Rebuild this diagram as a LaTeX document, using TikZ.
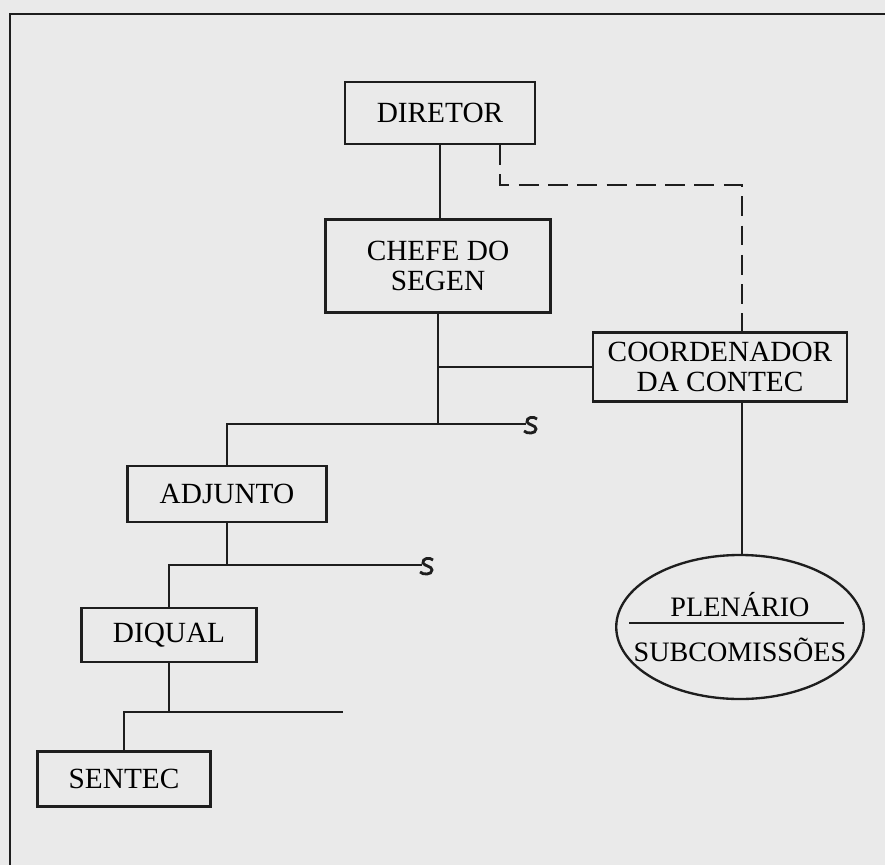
\documentclass[tikz,border=0pt]{standalone}
\usepackage{fontspec}
\setmainfont{Liberation Serif}
\usetikzlibrary{calc, shapes.geometric}
\definecolor{paper}{HTML}{EAEAEA}
\definecolor{ink}{HTML}{1E1E1E}
\tikzset{
  link/.style={draw=ink, line width=2pt},
  advice/.style={link, dash pattern=on 17pt off 8pt},
  orgbox/.style 2 args={link, minimum width=#1, minimum height=#2,
    inner sep=0pt, align=center, font=\fontsize{25}{26}\selectfont},
  orgoval/.style={link, ellipse, minimum height=4.32cm, inner xsep=-16pt,
    inner ysep=0pt, align=center, font=\fontsize{24}{26}\selectfont}
}
% small s-shaped break at the open end of a line
\newcommand{\sbreak}[1]{%
  \draw[link, line width=2.4pt, shift={(#1)}] (15,-5) .. controls (12,-8) and (4,-7) .. (5,-2)
    .. controls (6,1) and (14,1) .. (14,5) .. controls (14,10) and (5,10) .. (2,7);}

\begin{document}
\begin{tikzpicture}[x=0.03cm, y=-0.03cm]
\fill[paper] (0,0) rectangle (885,865);
\useasboundingbox (0,0) rectangle (885,865);
\draw[link, line width=2.4pt] (10,865) |- (885,14);

\node[orgbox={5.7cm}{1.86cm}] (dir) at (440,113) {DIRETOR};
\node[orgbox={6.75cm}{2.79cm}] (chefe) at (438,266) {CHEFE DO\\SEGEN};
\node[orgbox={7.62cm}{2.07cm}] (coord) at (720,367) {COORDENADOR\\DA CONTEC};
\node[orgbox={5.97cm}{1.68cm}] (adj) at (227,494) {ADJUNTO};
\node[orgbox={5.25cm}{1.62cm}] (diq) at (169,635) {DIQUAL};
\node[orgbox={5.19cm}{1.65cm}] (sen) at (124,779) {SENTEC};
\node[orgoval] (plen) at (740,627) {PLENÁRIO\\[13pt]SUBCOMISSÕES};
\draw[link] ($(plen.center)+(-111,-4)$) -- ($(plen.center)+(104,-4)$);

\coordinate (d1) at ($(dir.south east)+(-36,0)$);
\coordinate (d2) at ($(coord.north)+(22,0)$);
\coordinate (e1) at (526,424);
\coordinate (e2) at (422,565);
\coordinate (e3) at (343,712);

\draw[link] (dir.south) -- (dir.south |- chefe.north);
\draw[advice] (d1) -- ++(0,40) -| (d2);
\draw[link] (chefe.south) -- (chefe.south |- e1);
\draw[link] (chefe.south |- coord.west) -- (coord.west);
\draw[link] (d2 |- coord.south) -- (d2 |- plen.north);
\draw[link] (adj.north) |- (e1);
\sbreak{$(e1)+(-4,0)$}
\draw[link] (adj.south) -- (adj.south |- e2);
\draw[link] (diq.north) |- (e2);
\sbreak{$(e2)+(-4,0)$}
\draw[link] (diq.south) -- (diq.south |- e3);
\draw[link] (sen.north) |- (e3);
\end{tikzpicture}
\end{document}
